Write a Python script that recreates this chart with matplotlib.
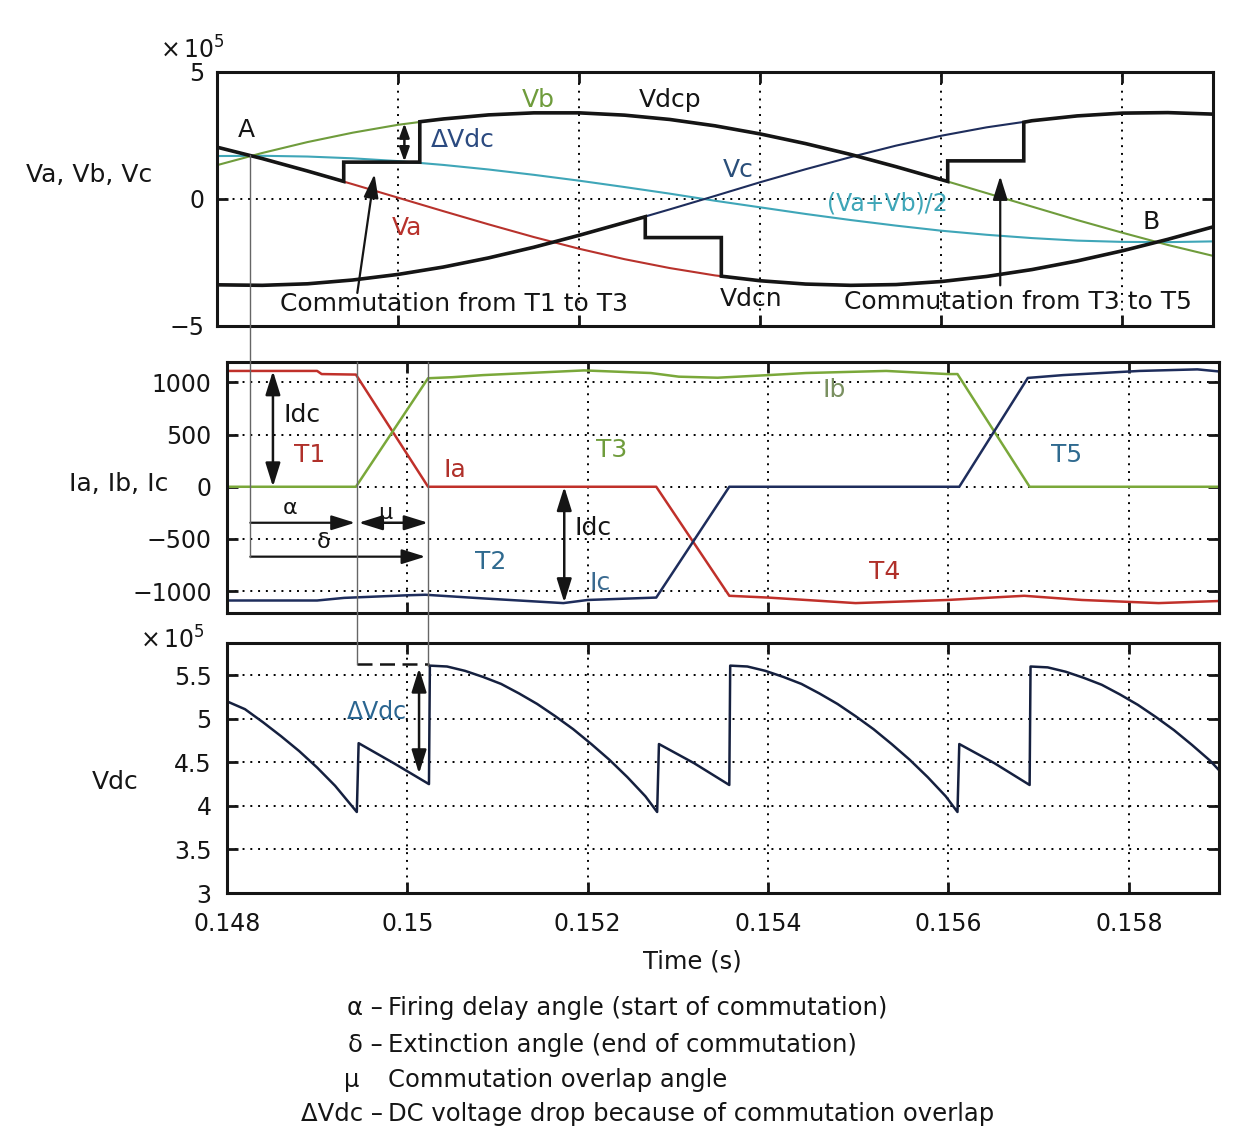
import numpy as np
import matplotlib
matplotlib.use("Agg")
import matplotlib.pyplot as plt
from matplotlib.lines import Line2D

plt.rcParams["font.family"] = ["DejaVu Sans"]
plt.rcParams["axes.unicode_minus"] = True

# -----------------------------
# Data
# -----------------------------
# phase voltages (x 1e5 V), sampled every 0.5 ms
t_ph = [0.1480, 0.1485, 0.1490, 0.1495, 0.1500, 0.1505, 0.1510, 0.1515, 0.1520,
        0.1525, 0.1530, 0.1535, 0.1540, 0.1545, 0.1550, 0.1555, 0.1560, 0.1565,
        0.1570, 0.1575, 0.1580, 0.1585, 0.1590]
va = [2.04, 1.59, 1.10, 0.58, 0.05, -0.48, -1.00, -1.50, -1.96, -2.37, -2.72, -3.01,
      -3.22, -3.35, -3.40, -3.37, -3.25, -3.05, -2.78, -2.44, -2.04, -1.59, -1.10]
vb = [1.33, 1.81, 2.24, 2.61, 2.92, 3.15, 3.31, 3.39, 3.39, 3.30, 3.13, 2.88,
      2.56, 2.18, 1.75, 1.27, 0.76, 0.23, -0.30, -0.83, -1.33, -1.81, -2.24]
vc = [-3.38, -3.40, -3.34, -3.19, -2.97, -2.68, -2.32, -1.90, -1.43, -0.93, -0.41, 0.12,
      0.66, 1.17, 1.65, 2.10, 2.49, 2.82, 3.08, 3.27, 3.38, 3.40, 3.34]
vab = [1.69, 1.70, 1.67, 1.60, 1.49, 1.34, 1.16, 0.95, 0.72, 0.47, 0.21, -0.07,
       -0.33, -0.59, -0.83, -1.05, -1.25, -1.41, -1.54, -1.64, -1.69, -1.70, -1.67]

# positive / negative dc rail (x 1e5 V)
t_dcp = [0.1480, 0.1485, 0.1490, 0.1494, 0.1494, 0.15024, 0.15024, 0.1505, 0.1510,
         0.1515, 0.1520, 0.1525, 0.1530, 0.1535, 0.1540, 0.1545, 0.1550, 0.1555,
         0.1560, 0.15607, 0.15607, 0.15691, 0.15691, 0.1570, 0.1575, 0.1580, 0.1585, 0.1590]
v_dcp = [2.04, 1.59, 1.10, 0.69, 1.45, 1.45, 3.04, 3.15, 3.31, 3.39, 3.39, 3.30, 3.13,
         2.88, 2.56, 2.18, 1.75, 1.27, 0.76, 0.69, 1.50, 1.50, 3.02, 3.08, 3.27, 3.38,
         3.40, 3.34]
t_dcn = [0.1480, 0.1485, 0.1490, 0.1495, 0.1500, 0.1505, 0.1510, 0.1515, 0.1520,
         0.1525, 0.15273, 0.15273, 0.15357, 0.15357, 0.1540, 0.1545, 0.1550, 0.1555,
         0.1560, 0.1565, 0.1570, 0.1575, 0.1580, 0.1585, 0.1590]
v_dcn = [-3.38, -3.40, -3.34, -3.19, -2.97, -2.68, -2.32, -1.90, -1.43, -0.93, -0.70,
         -1.52, -1.52, -3.04, -3.22, -3.35, -3.40, -3.37, -3.25, -3.05, -2.78, -2.44,
         -2.04, -1.59, -1.10]

# valve currents (A)
t_ia = [0.1480, 0.1490, 0.14905, 0.14943, 0.15023, 0.15276, 0.15357, 0.1540, 0.15442,
        0.15497, 0.15599, 0.15684, 0.15748, 0.15833, 0.1590]
i_a = [1110, 1110, 1080, 1075, 0, 0, -1045, -1062, -1085, -1115, -1085, -1045,
       -1085, -1115, -1095]
t_ib = [0.1480, 0.14943, 0.15023, 0.1505, 0.15084, 0.15196, 0.1527, 0.15301, 0.15344,
        0.1540, 0.15442, 0.15531, 0.15599, 0.1561, 0.1569, 0.1590]
i_b = [0, 0, 1040, 1050, 1070, 1115, 1090, 1055, 1045, 1070, 1090, 1110, 1080, 1080, 0, 0]
t_ic = [0.1480, 0.1490, 0.1493, 0.1500, 0.1502, 0.15084, 0.15173, 0.1520, 0.15276,
        0.15357, 0.15612, 0.15688, 0.15727, 0.15812, 0.15876, 0.1590]
i_c = [-1090, -1090, -1065, -1040, -1035, -1070, -1115, -1085, -1062, 0, 0, 1043,
       1070, 1110, 1125, 1105]

# dc voltage (x 1e5 V)
t_vdc = [0.1480, 0.1482, 0.1484, 0.1486, 0.1488, 0.1490, 0.1492, 0.14944,
         0.14946, 0.14985, 0.15024,
         0.15025, 0.15044, 0.15064, 0.15084, 0.15104, 0.15124, 0.15144, 0.15164,
         0.15184, 0.15204, 0.15224, 0.15244, 0.15264, 0.15277,
         0.15279, 0.15318, 0.15357,
         0.15358, 0.15377, 0.15397, 0.15417, 0.15437, 0.15457, 0.15477, 0.15497,
         0.15517, 0.15537, 0.15557, 0.15577, 0.15597, 0.15610,
         0.15612, 0.15651, 0.15690,
         0.15691, 0.15710, 0.15730, 0.15750, 0.15770, 0.15790, 0.15810, 0.15830,
         0.15850, 0.15870, 0.15890, 0.15900]
v_dc = [5.20, 5.11, 4.96, 4.80, 4.63, 4.44, 4.23, 3.93,
        4.72, 4.49, 4.25,
        5.61, 5.60, 5.55, 5.48, 5.40, 5.29, 5.17, 5.03,
        4.88, 4.71, 4.53, 4.33, 4.11, 3.93,
        4.71, 4.49, 4.24,
        5.61, 5.60, 5.55, 5.48, 5.40, 5.29, 5.17, 5.03,
        4.88, 4.71, 4.53, 4.33, 4.11, 3.93,
        4.71, 4.49, 4.24,
        5.60, 5.59, 5.54, 5.47, 5.39, 5.28, 5.16, 5.02,
        4.87, 4.70, 4.52, 4.41]

x_ticks = [0.148, 0.150, 0.152, 0.154, 0.156, 0.158]
x_tick_labels = ["0.148", "0.15", "0.152", "0.154", "0.156", "0.158"]
v_ticks = [-5, 0, 5]
i_ticks = [-1000, -500, 0, 500, 1000]
vdc_ticks = [3, 3.5, 4, 4.5, 5, 5.5]
vdc_tick_labels = ["3", "3.5", "4", "4.5", "5", "5.5"]

# -----------------------------
# Colours
# -----------------------------
RED = "#b8322c"
GREEN = "#6f9c3c"
NAVY = "#1e2d5c"
CYAN = "#3fa6b8"
TEAL = "#2f6a8f"
INK = "#151515"

W, H = 1249, 1135


def px(x, y):
    return x / W, 1 - y / H


def style(ax, yticks, ylim, ypad):
    ax.set_xlim(0.148, 0.159)
    ax.set_ylim(*ylim)
    ax.set_xticks(x_ticks)
    ax.set_yticks(yticks)
    ax.grid(True, color="black", linestyle=(0, (1, 3)), linewidth=1.4)
    ax.set_axisbelow(True)
    ax.tick_params(direction="in", length=8, width=2, top=True, right=True,
                   labelsize=17, colors=INK)
    ax.tick_params(axis="y", pad=ypad)
    ax.tick_params(axis="x", pad=14)
    for s in ax.spines.values():
        s.set_linewidth(2.2)
        s.set_color(INK)


fig = plt.figure(figsize=(W / 100, H / 100), dpi=100)
ax1 = fig.add_axes([0.1737, 0.7128, 0.7975, 0.2238])
ax2 = fig.add_axes([0.1817, 0.4599, 0.7943, 0.2211])
ax3 = fig.add_axes([0.1817, 0.2132, 0.7943, 0.2203])

style(ax1, v_ticks, (-5, 5), 9)
style(ax2, i_ticks, (-1210, 1195), 11)
style(ax3, vdc_ticks, (3, 5.87), 11)
ax1.tick_params(labelbottom=False)
ax2.tick_params(labelbottom=False)
ax3.set_xticklabels(x_tick_labels)
ax3.set_yticklabels(vdc_tick_labels)

# 1) Phase voltages and dc rails
# -------------------------------------------------------------------
ax1.plot(t_ph, vab, color=CYAN, lw=1.5)
ax1.plot(t_ph, va, color=RED, lw=1.5)
ax1.plot(t_ph, vb, color=GREEN, lw=1.5)
ax1.plot(t_ph, vc, color=NAVY, lw=1.5)
ax1.plot(t_dcp, v_dcp, color=INK, lw=2.6, solid_joinstyle="miter")
ax1.plot(t_dcn, v_dcn, color=INK, lw=2.6, solid_joinstyle="miter")

fs = 18
ax1.text(0.14833, 2.72, "A", fontsize=fs, color=INK, ha="center", va="center")
ax1.text(0.15155, 3.9, "Vb", fontsize=fs, color=GREEN, ha="center", va="center")
ax1.text(0.1530, 3.9, "Vdcp", fontsize=fs, color=INK, ha="center", va="center")
ax1.text(0.15036, 2.32, "ΔVdc", fontsize=fs, color="#2b4a80", ha="left", va="center")
ax1.text(0.15376, 1.14, "Vc", fontsize=fs, color="#2a4f7a", ha="center", va="center")
ax1.text(0.15540, -0.16, "(Va+Vb)/2", fontsize=17, color=CYAN, ha="center", va="center")
ax1.text(0.15010, -1.14, "Va", fontsize=fs, color=RED, ha="center", va="center")
ax1.text(0.15832, -0.90, "B", fontsize=fs, color=INK, ha="center", va="center")
ax1.text(0.15390, -3.95, "Vdcn", fontsize=fs, color=INK, ha="center", va="center")
ax1.text(0.15062, -4.12, "Commutation from T1 to T3", fontsize=fs, color=INK,
         ha="center", va="center")
ax1.text(0.15685, -4.06, "Commutation from T3 to T5", fontsize=fs, color=INK,
         ha="center", va="center")

dbl = dict(arrowstyle="<|-|>,head_length=0.8,head_width=0.25", color=INK, lw=1.8,
           mutation_scale=18, shrinkA=0, shrinkB=0)
dbl_small = dict(arrowstyle="<|-|>,head_length=0.7,head_width=0.25", color=INK, lw=1.8,
                 mutation_scale=12, shrinkA=0, shrinkB=0)
one = dict(arrowstyle="-|>,head_length=0.8,head_width=0.25", color=INK, lw=1.6,
           mutation_scale=18, shrinkA=0, shrinkB=0)
ax1.annotate("", xy=(0.15007, 2.98), xytext=(0.15007, 1.47), arrowprops=dbl_small)
ax1.annotate("", xy=(0.14974, 0.98), xytext=(0.14955, -3.70), arrowprops=one)
ax1.annotate("", xy=(0.15665, 0.90), xytext=(0.15665, -3.40), arrowprops=one)

# 2) Valve currents
# -------------------------------------------------------------------
ax2.plot(t_ia, i_a, color="#c0302a", lw=1.8)
ax2.plot(t_ib, i_b, color="#7aa83a", lw=1.8)
ax2.plot(t_ic, i_c, color=NAVY, lw=1.8)

fs2 = 18
ax2.text(0.14883, 684, "Idc", fontsize=fs2, color=INK, ha="center", va="center")
ax2.text(0.14892, 301, "T1", fontsize=fs2, color="#b0302a", ha="center", va="center")
ax2.text(0.15053, 158, "Ia", fontsize=fs2, color="#b0302a", ha="center", va="center")
ax2.text(0.15226, 349, "T3", fontsize=fs2, color=GREEN, ha="center", va="center")
ax2.text(0.15473, 923, "Ib", fontsize=fs2, color="#7a9060", ha="center", va="center")
ax2.text(0.15731, 301, "T5", fontsize=fs2, color=TEAL, ha="center", va="center")
ax2.text(0.15206, -397, "Idc", fontsize=fs2, color=INK, ha="center", va="center")
ax2.text(0.15092, -722, "T2", fontsize=fs2, color=TEAL, ha="center", va="center")
ax2.text(0.15214, -923, "Ic", fontsize=fs2, color="#3a6a90", ha="center", va="center")
ax2.text(0.15529, -818, "T4", fontsize=fs2, color="#b0302a", ha="center", va="center")
ax2.text(0.14870, -200, "α", fontsize=16, color=INK, ha="center", va="center")
ax2.text(0.14976, -250, "μ", fontsize=16, color=INK, ha="center", va="center")
ax2.text(0.14907, -525, "δ", fontsize=16, color=INK, ha="center", va="center")

ax2.annotate("", xy=(0.14851, 1110), xytext=(0.14851, 0), arrowprops=dbl)
ax2.annotate("", xy=(0.15174, 0), xytext=(0.15174, -1110), arrowprops=dbl)
ax2.annotate("", xy=(0.14942, -345), xytext=(0.14826, -345), arrowprops=one)
ax2.annotate("", xy=(0.15023, -345), xytext=(0.14946, -345), arrowprops=dbl)
ax2.annotate("", xy=(0.15020, -670), xytext=(0.14826, -670), arrowprops=one)

# 3) DC voltage
# -------------------------------------------------------------------
ax3.plot(t_vdc, v_dc, color="#15203f", lw=1.8)
ax3.plot([0.14944, 0.15024], [5.63, 5.63], color=INK, lw=1.8, linestyle=(0, (6, 3)))
ax3.annotate("", xy=(0.15013, 5.58), xytext=(0.15013, 4.37), arrowprops=dbl)
ax3.text(0.14966, 5.08, "ΔVdc", fontsize=17, color="#2a6590", ha="center", va="center")


# thin guide lines running across panels
def to_fig(ax, x, y):
    return fig.transFigure.inverted().transform(ax.transData.transform((x, y)))


guides = [
    (to_fig(ax2, 0.14826, 0)[0], to_fig(ax1, 0.14834, 1.72)[1], to_fig(ax2, 0.14826, -670)[1]),
    (to_fig(ax2, 0.14944, 0)[0], to_fig(ax2, 0.14944, 1195)[1], to_fig(ax3, 0.14944, 5.63)[1]),
    (to_fig(ax2, 0.15023, 0)[0], to_fig(ax2, 0.15023, 1195)[1], to_fig(ax3, 0.15023, 5.61)[1]),
]
for gx, gy0, gy1 in guides:
    fig.add_artist(Line2D([gx, gx], [gy0, gy1], transform=fig.transFigure,
                          color="#666666", lw=1.0, zorder=0.5))

# axis labels
fig.text(*px(152, 175), "Va, Vb, Vc", fontsize=18, color=INK, ha="right", va="center")
fig.text(*px(168, 484), "Ia, Ib, Ic", fontsize=18, color=INK, ha="right", va="center")
fig.text(*px(115, 782), "Vdc", fontsize=18, color=INK, ha="center", va="center")
fig.text(*px(692, 961), "Time (s)", fontsize=17.5, color=INK, ha="center", va="center")
fig.text(*px(160, 50), r"$\times\,10^{5}$", fontsize=17, color=INK, ha="left", va="center")
fig.text(*px(140, 640), r"$\times\,10^{5}$", fontsize=17, color=INK, ha="left", va="center")

# footnote
notes = [
    ("α –", "Firing delay angle (start of commutation)", 1008),
    ("δ –", "Extinction angle (end of commutation)", 1045),
    ("μ   ", "Commutation overlap angle", 1080),
    ("ΔVdc –", "DC voltage drop because of commutation overlap", 1114),
]
for sym, desc, y in notes:
    fig.text(*px(383, y), sym, fontsize=17.5, color=INK, ha="right", va="center")
    fig.text(*px(388, y), desc, fontsize=17.5, color=INK, ha="left", va="center")

fig.savefig("out.png", dpi=100, facecolor="white")
